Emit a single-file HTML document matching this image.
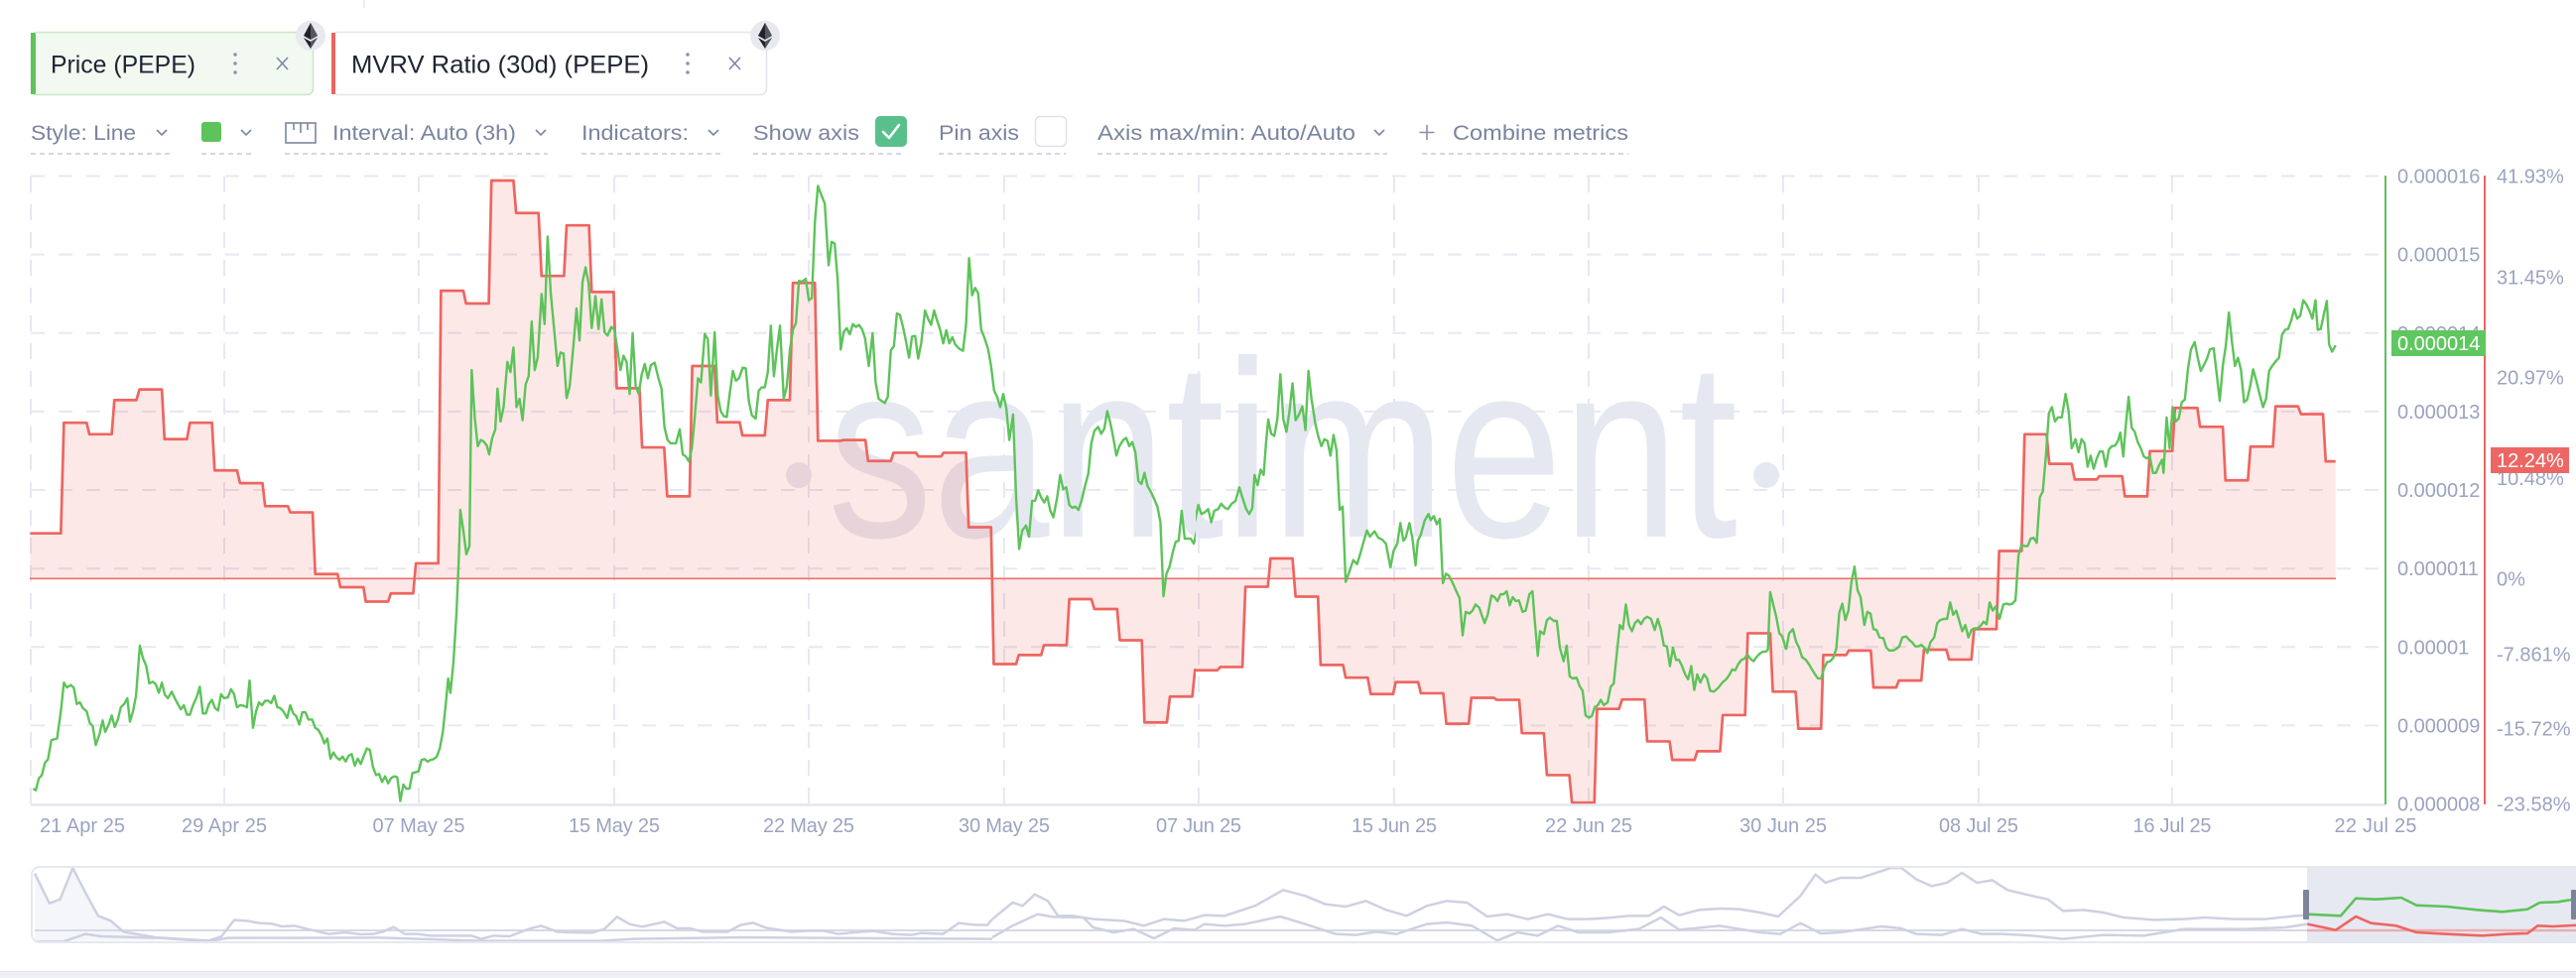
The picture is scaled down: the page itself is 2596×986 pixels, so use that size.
<!DOCTYPE html>
<html><head><meta charset="utf-8"><style>
html,body{margin:0;padding:0;background:#fff;}
svg{display:block;}
text{font-family:"Liberation Sans",sans-serif;}
</style></head><body>
<svg width="2596" height="986" viewBox="0 0 2596 986" xmlns="http://www.w3.org/2000/svg">
<defs>
<clipPath id="chip1"><rect x="31" y="32" width="285" height="64" rx="6"/></clipPath>
<clipPath id="chip2"><rect x="334" y="32" width="439" height="64" rx="6"/></clipPath>
<clipPath id="c7"><rect x="0" y="150" width="615" height="700"/></clipPath>
<clipPath id="c8"><rect x="615" y="150" width="590" height="700"/></clipPath>
<clipPath id="c9"><rect x="1205" y="150" width="596" height="700"/></clipPath>
<clipPath id="c10"><rect x="1800" y="150" width="600" height="700"/></clipPath>
<clipPath id="nav"><rect x="31" y="873" width="2600" height="78" rx="8"/></clipPath>
</defs>

<!-- top remnant -->
<line x1="367" y1="0" x2="367" y2="8" stroke="#e3e5ec" stroke-width="1.5"/>

<!-- Chips -->
<g clip-path="url(#chip1)">
<rect x="31" y="32" width="285" height="64" fill="#f2f9f1"/>
<rect x="31" y="32" width="5" height="64" fill="#5dc35a"/>
</g>
<rect x="31.5" y="32.5" width="284" height="63" rx="6" fill="none" stroke="#c6e9c4" stroke-width="1.5"/>
<rect x="31" y="33" width="4" height="62" fill="#5dc35a"/>
<text x="51" y="73.5" font-size="25" fill="#1f2433" textLength="146" lengthAdjust="spacingAndGlyphs">Price (PEPE)</text>
<circle cx="237" cy="55" r="1.8" fill="#8c94ad"/><circle cx="237" cy="64" r="1.8" fill="#8c94ad"/><circle cx="237" cy="73" r="1.8" fill="#8c94ad"/>
<path d="M279,58 L290,70 M290,58 L279,70" stroke="#7c86a2" stroke-width="1.6" fill="none"/>

<g clip-path="url(#chip2)">
<rect x="334" y="32" width="439" height="64" fill="#ffffff"/>
</g>
<rect x="334.5" y="32.5" width="438" height="63" rx="6" fill="none" stroke="#e3e5ee" stroke-width="1.5"/>
<rect x="334" y="33" width="4" height="62" fill="#ec6560"/>
<text x="354" y="73.5" font-size="25" fill="#1f2433" textLength="300" lengthAdjust="spacingAndGlyphs">MVRV Ratio (30d) (PEPE)</text>
<circle cx="693" cy="55" r="1.8" fill="#8c94ad"/><circle cx="693" cy="64" r="1.8" fill="#8c94ad"/><circle cx="693" cy="73" r="1.8" fill="#8c94ad"/>
<path d="M735,58 L746,70 M746,58 L735,70" stroke="#7c86a2" stroke-width="1.6" fill="none"/>

<!-- ETH icons -->
<g>
<circle cx="313" cy="36" r="15" fill="#e8e9ee"/>
<polygon points="313,23 320,36 313,40 306,36" fill="#222228"/>
<polygon points="313,23 313,40 320,36" fill="#55575f"/>
<polygon points="306,38 313,42 320,38 313,49" fill="#222228"/>
<polygon points="313,42 320,38 313,49" fill="#55575f"/>
</g>
<g>
<circle cx="771" cy="36" r="15" fill="#e8e9ee"/>
<polygon points="771,23 778,36 771,40 764,36" fill="#222228"/>
<polygon points="771,23 771,40 778,36" fill="#55575f"/>
<polygon points="764,38 771,42 778,38 771,49" fill="#222228"/>
<polygon points="771,42 778,38 771,49" fill="#55575f"/>
</g>

<!-- Toolbar -->
<g font-size="21" fill="#7a849e">
<text x="31" y="141" textLength="106" lengthAdjust="spacingAndGlyphs">Style: Line</text>
<text x="335" y="141" textLength="185" lengthAdjust="spacingAndGlyphs">Interval: Auto (3h)</text>
<text x="586" y="141" textLength="108" lengthAdjust="spacingAndGlyphs">Indicators:</text>
<text x="759" y="141" textLength="107" lengthAdjust="spacingAndGlyphs">Show axis</text>
<text x="946" y="141" textLength="81" lengthAdjust="spacingAndGlyphs">Pin axis</text>
<text x="1106" y="141" textLength="260" lengthAdjust="spacingAndGlyphs">Axis max/min: Auto/Auto</text>
<text x="1464" y="141" textLength="177" lengthAdjust="spacingAndGlyphs">Combine metrics</text>
</g>
<path d="M1438,126 V141 M1430.5,133.5 H1445.5" stroke="#8890aa" stroke-width="1.6"/>
<g stroke="#7c86a2" stroke-width="1.6" fill="none">
<path d="M158,131 L163,136 L168,131"/>
<path d="M243,131 L248,136 L253,131"/>
<path d="M540,131 L545,136 L550,131"/>
<path d="M714,131 L719,136 L724,131"/>
<path d="M1385,131 L1390,136 L1395,131"/>
<rect x="288" y="124" width="30" height="20"/>
<path d="M296,124 V131 M303,124 V134 M310,124 V131"/>
</g>
<rect x="203" y="123" width="20" height="20" rx="3" fill="#5dc35a"/>
<rect x="882" y="117" width="32" height="31" rx="5" fill="#59c08c"/>
<path d="M890,133 L896,139 L906,126" stroke="#fff" stroke-width="2.6" fill="none" stroke-linecap="round" stroke-linejoin="round"/>
<rect x="1043.5" y="117.5" width="31" height="30" rx="5" fill="#fff" stroke="#e0e2eb" stroke-width="1.5"/>
<g stroke="#d4d7e4" stroke-width="2" stroke-dasharray="5 4">
<line x1="31" y1="155" x2="171" y2="155"/>
<line x1="203" y1="155" x2="255" y2="155"/>
<line x1="287" y1="155" x2="552" y2="155"/>
<line x1="586" y1="155" x2="727" y2="155"/>
<line x1="759" y1="155" x2="912" y2="155"/>
<line x1="946" y1="155" x2="1074" y2="155"/>
<line x1="1106" y1="155" x2="1398" y2="155"/>
<line x1="1433" y1="155" x2="1641" y2="155"/>
</g>

<!-- Grid -->
<g stroke="#e6e8f2" stroke-width="2" stroke-dasharray="14 14">
<line x1="31" y1="177.5" x2="2398" y2="177.5"/>
<line x1="31" y1="256.6" x2="2398" y2="256.6"/>
<line x1="31" y1="335.8" x2="2398" y2="335.8"/>
<line x1="31" y1="414.9" x2="2398" y2="414.9"/>
<line x1="31" y1="494" x2="2398" y2="494"/>
<line x1="31" y1="573.2" x2="2398" y2="573.2"/>
<line x1="31" y1="652.3" x2="2398" y2="652.3"/>
<line x1="31" y1="731.4" x2="2398" y2="731.4"/>
</g>
<g stroke="#e6e8f2" stroke-width="2" stroke-dasharray="16 12">
<line x1="31" y1="178" x2="31" y2="810"/>
<line x1="226" y1="178" x2="226" y2="810"/>
<line x1="422" y1="178" x2="422" y2="810"/>
<line x1="619" y1="178" x2="619" y2="810"/>
<line x1="815" y1="178" x2="815" y2="810"/>
<line x1="1012" y1="178" x2="1012" y2="810"/>
<line x1="1208" y1="178" x2="1208" y2="810"/>
<line x1="1405" y1="178" x2="1405" y2="810"/>
<line x1="1601" y1="178" x2="1601" y2="810"/>
<line x1="1797" y1="178" x2="1797" y2="810"/>
<line x1="1994" y1="178" x2="1994" y2="810"/>
<line x1="2189" y1="178" x2="2189" y2="810"/>
</g>

<!-- Watermark -->
<g fill="#e5e8f0">
<circle cx="805" cy="479" r="13"/>
<circle cx="1780" cy="479" r="13"/>
<text x="834" y="541" font-size="254" textLength="917" lengthAdjust="spacingAndGlyphs">santiment</text>
</g>

<!-- Red fill -->
<g fill="rgba(236,100,96,0.15)" stroke="none">
<g clip-path="url(#c7)"><g transform="translate(20,170) scale(0.38265,0.41454)">
<polygon points="27,887 108,887 116,618 176,618 183,646 242,646 249,563 307,563 315,537 374,537 381,658 440,658 448,618 506,618 513,734 572,734 580,765 639,765 646,821 706,821 712,836 771,836 778,986 837,986 844,1018 905,1018 911,1053 970,1053 977,1033 1036,1033 1043,960 1102,960 1109,297 1168,297 1175,328 1235,328 1242,29 1300,29 1307,108 1366,108 1374,261 1433,261 1440,138 1499,138 1506,300 1568,300 1568,997 27,997"/>
</g></g>
<g clip-path="url(#c8)"><g transform="translate(610,170) scale(0.38265,0.41454)">
<polygon points="0,300 22,300 30,534 90,534 97,678 155,678 163,797 222,797 229,480 288,480 295,617 354,617 361,649 420,649 428,563 486,563 494,278 552,278 560,662 620,662 627,660 685,660 692,711 752,711 759,691 818,691 825,700 884,700 891,691 950,691 957,872 1016,872 1023,1205 1082,1205 1089,1183 1148,1183 1155,1159 1215,1159 1222,1047 1280,1047 1288,1071 1348,1071 1355,1147 1413,1147 1420,1347 1479,1347 1487,1284 1546,1284 1553,1219 1568,1219 1568,997 0,997"/>
</g></g>
<g clip-path="url(#c9)"><g transform="translate(1200,170) scale(0.38265,0.41454)">
<polygon points="0,1285 8,1220 70,1220 78,1212 136,1212 144,1017 203,1017 210,948 268,948 276,1041 335,1041 342,1207 401,1207 408,1238 466,1238 474,1278 533,1278 540,1249 599,1249 606,1276 665,1276 673,1350 732,1350 739,1287 798,1287 806,1292 865,1292 872,1373 930,1373 938,1475 997,1475 1004,1542 1063,1542 1070,1314 1128,1314 1136,1291 1195,1291 1202,1393 1261,1393 1268,1438 1327,1438 1334,1417 1394,1417 1401,1329 1460,1329 1467,1130 1526,1130 1533,1272 1568,1272 1568,997 0,997"/>
</g></g>
<g clip-path="url(#c10)"><g transform="translate(1800,170) scale(0.38265,0.41454)">
<polygon points="0,1272 25,1272 32,1362 92,1362 98,1183 158,1183 165,1172 223,1172 230,1262 290,1262 297,1245 356,1245 363,1170 422,1170 429,1194 488,1194 495,1120 554,1120 561,930 620,930 628,646 686,646 693,718 752,718 760,756 818,756 825,748 885,748 892,797 951,797 958,687 1017,687 1024,582 1083,582 1090,628 1150,628 1157,758 1216,758 1223,676 1282,676 1289,578 1348,578 1356,597 1414,597 1421,712 1447,712 1447,997 0,997"/>
</g></g>
</g>

<!-- zero line -->
<line x1="30" y1="583.3" x2="2354" y2="583.3" stroke="#ef6f6a" stroke-width="1.6"/>

<!-- Red line -->
<g fill="none" stroke="#ee6560" stroke-width="2.7" stroke-linejoin="round">
<g clip-path="url(#c7)"><g transform="translate(20,170) scale(0.38265,0.41454)">
<polyline vector-effect="non-scaling-stroke" points="27,887 108,887 116,618 176,618 183,646 242,646 249,563 307,563 315,537 374,537 381,658 440,658 448,618 506,618 513,734 572,734 580,765 639,765 646,821 706,821 712,836 771,836 778,986 837,986 844,1018 905,1018 911,1053 970,1053 977,1033 1036,1033 1043,960 1102,960 1109,297 1168,297 1175,328 1235,328 1242,29 1300,29 1307,108 1366,108 1374,261 1433,261 1440,138 1499,138 1506,300 1568,300"/>
</g></g>
<g clip-path="url(#c8)"><g transform="translate(610,170) scale(0.38265,0.41454)">
<polyline vector-effect="non-scaling-stroke" points="0,300 22,300 30,534 90,534 97,678 155,678 163,797 222,797 229,480 288,480 295,617 354,617 361,649 420,649 428,563 486,563 494,278 552,278 560,662 620,662 627,660 685,660 692,711 752,711 759,691 818,691 825,700 884,700 891,691 950,691 957,872 1016,872 1023,1205 1082,1205 1089,1183 1148,1183 1155,1159 1215,1159 1222,1047 1280,1047 1288,1071 1348,1071 1355,1147 1413,1147 1420,1347 1479,1347 1487,1284 1546,1284 1553,1219 1568,1219"/>
</g></g>
<g clip-path="url(#c9)"><g transform="translate(1200,170) scale(0.38265,0.41454)">
<polyline vector-effect="non-scaling-stroke" points="0,1285 8,1220 70,1220 78,1212 136,1212 144,1017 203,1017 210,948 268,948 276,1041 335,1041 342,1207 401,1207 408,1238 466,1238 474,1278 533,1278 540,1249 599,1249 606,1276 665,1276 673,1350 732,1350 739,1287 798,1287 806,1292 865,1292 872,1373 930,1373 938,1475 997,1475 1004,1542 1063,1542 1070,1314 1128,1314 1136,1291 1195,1291 1202,1393 1261,1393 1268,1438 1327,1438 1334,1417 1394,1417 1401,1329 1460,1329 1467,1130 1526,1130 1533,1272 1568,1272"/>
</g></g>
<g clip-path="url(#c10)"><g transform="translate(1800,170) scale(0.38265,0.41454)">
<polyline vector-effect="non-scaling-stroke" points="0,1272 25,1272 32,1362 92,1362 98,1183 158,1183 165,1172 223,1172 230,1262 290,1262 297,1245 356,1245 363,1170 422,1170 429,1194 488,1194 495,1120 554,1120 561,930 620,930 628,646 686,646 693,718 752,718 760,756 818,756 825,748 885,748 892,797 951,797 958,687 1017,687 1024,582 1083,582 1090,628 1150,628 1157,758 1216,758 1223,676 1282,676 1289,578 1348,578 1356,597 1414,597 1421,712 1447,712"/>
</g></g>
</g>

<!-- Green line -->
<g fill="none" stroke="#5dc35a" stroke-width="2.4" stroke-linejoin="round">
<g clip-path="url(#c7)"><g transform="translate(20,170) scale(0.38265,0.41454)">
<polyline vector-effect="non-scaling-stroke" points="35,1508 42,1512 50,1483 58,1475 66,1445 74,1437 83,1390 98,1386 108,1320 116,1250 124,1262 134,1256 142,1262 150,1302 158,1298 166,1312 176,1320 184,1348 192,1356 200,1402 210,1375 218,1342 225,1370 235,1350 242,1330 250,1358 258,1340 266,1310 275,1302 283,1288 290,1345 298,1320 306,1282 316,1160 324,1190 333,1210 341,1252 350,1248 358,1254 366,1275 374,1250 382,1280 390,1288 400,1272 408,1288 416,1302 424,1315 432,1305 440,1328 448,1328 456,1305 466,1285 474,1260 482,1325 490,1325 498,1302 506,1292 514,1312 522,1318 530,1278 538,1288 548,1286 556,1266 564,1278 572,1310 580,1305 588,1306 598,1310 605,1245 614,1360 622,1320 630,1298 638,1305 646,1294 654,1294 662,1300 670,1282 678,1310 686,1312 694,1320 704,1336 712,1305 720,1325 728,1332 736,1352 744,1322 752,1322 760,1340 770,1340 778,1360 786,1365 794,1378 802,1398 810,1386 818,1435 826,1420 834,1432 842,1438 850,1430 858,1442 866,1428 874,1424 882,1452 890,1435 898,1448 906,1428 914,1410 922,1414 930,1455 938,1475 946,1472 954,1492 962,1478 970,1495 978,1482 986,1478 994,1480 1002,1538 1010,1498 1018,1508 1026,1508 1034,1470 1042,1468 1050,1466 1058,1438 1066,1436 1074,1442 1082,1438 1090,1436 1098,1430 1106,1410 1114,1370 1122,1300 1128,1240 1134,1275 1142,1200 1150,1080 1156,950 1160,830 1168,880 1176,938 1184,918 1190,490 1198,605 1206,675 1214,660 1222,664 1230,674 1236,695 1244,655 1252,635 1258,535 1266,615 1274,580 1284,470 1292,495 1300,435 1308,580 1316,560 1324,612 1332,525 1340,505 1348,372 1356,490 1364,458 1374,305 1382,378 1390,165 1398,300 1408,400 1416,480 1424,447 1432,450 1440,558 1448,530 1458,430 1466,340 1474,418 1482,275 1490,240 1498,280 1506,388 1516,310 1524,390 1532,318 1540,398 1548,406 1556,388 1564,390 1568,400"/>
</g></g>
<g clip-path="url(#c8)"><g transform="translate(610,170) scale(0.38265,0.41454)">
<polyline vector-effect="non-scaling-stroke" points="0,395 8,405 16,385 24,392 32,440 40,490 48,455 56,470 64,548 72,400 80,530 88,548 96,500 104,475 112,510 120,478 130,472 140,510 148,535 156,630 164,660 172,668 186,668 196,634 204,695 212,700 220,712 228,680 236,600 244,510 252,520 262,402 270,415 278,552 288,398 296,550 304,590 312,602 320,604 328,545 336,492 344,516 352,510 362,484 370,486 378,565 386,600 396,608 404,540 412,532 420,532 428,495 436,382 444,505 452,440 460,382 470,560 478,530 486,442 494,392 502,376 510,273 518,275 528,268 536,320 544,315 552,130 560,42 568,62 578,85 588,235 596,178 604,182 612,270 620,440 628,397 636,388 644,403 652,378 660,385 668,380 676,390 684,412 694,480 704,400 712,520 720,560 736,570 744,555 752,442 760,432 768,352 776,356 784,385 792,420 800,460 808,408 816,407 824,462 832,425 842,345 850,365 858,380 866,345 874,370 882,392 890,425 898,393 906,425 914,410 922,428 932,438 942,443 950,380 958,218 966,308 974,290 982,303 990,392 998,410 1008,438 1016,480 1024,540 1032,555 1040,580 1048,548 1056,582 1064,660 1074,598 1082,800 1090,925 1098,880 1108,868 1116,895 1124,808 1132,808 1140,782 1148,800 1156,812 1164,797 1172,832 1180,848 1190,800 1198,745 1206,780 1214,775 1222,818 1230,825 1238,822 1246,830 1254,808 1264,770 1272,742 1280,668 1288,638 1298,628 1306,645 1314,633 1322,590 1330,618 1338,655 1346,698 1354,675 1364,660 1372,655 1380,675 1388,665 1396,690 1404,760 1412,767 1420,740 1428,772 1436,785 1444,800 1454,822 1462,860 1470,1040 1478,985 1486,968 1494,935 1502,908 1510,905 1518,832 1526,900 1534,900 1542,900 1550,912 1558,880 1566,818"/>
</g></g>
<g clip-path="url(#c9)"><g transform="translate(1200,170) scale(0.38265,0.41454)">
<polyline vector-effect="non-scaling-stroke" points="0,912 8,870 20,818 28,840 38,835 46,828 54,860 62,832 72,828 80,815 90,825 98,828 108,815 118,808 128,775 136,800 146,828 154,840 162,826 168,745 176,770 184,732 192,745 198,670 204,610 212,645 220,650 228,610 236,500 244,610 252,640 260,590 268,522 276,612 284,600 294,578 302,636 310,492 318,560 328,620 336,652 344,675 352,658 360,662 368,698 376,648 384,685 392,830 400,822 408,1005 416,985 428,952 438,962 446,938 456,905 464,880 472,895 484,882 494,898 504,902 514,912 526,970 534,930 544,912 552,862 560,905 566,898 576,862 584,900 592,965 598,905 606,890 616,856 626,840 632,855 640,845 648,865 656,852 664,1008 672,985 680,990 690,1008 698,1025 708,1045 716,1135 724,1078 734,1082 742,1075 750,1060 760,1068 766,1085 774,1105 782,1085 792,1038 800,1042 808,1052 816,1035 824,1035 832,1028 840,1062 848,1042 856,1052 864,1050 874,1078 882,1075 892,1035 900,1028 906,1100 914,1185 920,1125 930,1132 938,1098 946,1092 956,1100 964,1100 972,1165 982,1198 990,1160 998,1235 1006,1240 1016,1238 1024,1258 1032,1270 1040,1330 1048,1335 1056,1332 1064,1310 1072,1305 1080,1292 1088,1305 1098,1298 1106,1260 1114,1252 1122,1180 1130,1110 1138,1120 1146,1060 1154,1110 1162,1125 1170,1105 1178,1098 1186,1108 1194,1095 1202,1090 1212,1095 1222,1122 1230,1095 1238,1120 1246,1160 1254,1162 1262,1210 1270,1165 1278,1195 1286,1195 1294,1210 1302,1230 1310,1242 1318,1210 1326,1268 1334,1230 1342,1250 1352,1230 1360,1240 1368,1270 1378,1272 1390,1262 1400,1250 1410,1242 1418,1232 1426,1218 1434,1220 1442,1205 1450,1195 1458,1192 1466,1182 1474,1192 1482,1198 1490,1188 1498,1180 1506,1175 1514,1175 1520,1170 1526,1030 1534,1060 1542,1090 1550,1130 1558,1138 1568,1170"/>
</g></g>
<g clip-path="url(#c10)"><g transform="translate(1800,170) scale(0.38265,0.41454)">
<polyline vector-effect="non-scaling-stroke" points="0,1170 8,1130 18,1120 26,1150 34,1165 42,1188 52,1195 60,1205 68,1218 76,1230 84,1240 92,1240 100,1215 108,1200 116,1198 124,1190 132,1168 140,1080 148,1058 156,1098 164,1075 172,1005 180,968 188,1025 196,1042 206,1110 214,1078 222,1082 230,1120 238,1122 246,1140 256,1142 264,1165 272,1172 282,1172 290,1168 298,1162 306,1140 316,1138 324,1146 332,1152 340,1162 348,1162 356,1158 364,1165 372,1178 380,1152 390,1140 398,1105 406,1098 416,1095 424,1095 432,1055 440,1085 448,1075 456,1100 464,1125 472,1110 480,1140 488,1122 496,1118 504,1118 512,1112 520,1102 528,1108 536,1055 544,1075 552,1065 562,1095 572,1060 580,1058 588,1060 596,1058 604,1050 612,940 620,915 628,918 636,918 644,900 652,898 660,910 668,800 676,785 684,700 692,595 700,580 708,615 716,605 726,605 736,548 744,590 752,680 762,658 770,690 778,658 786,668 794,725 802,698 810,730 818,705 826,688 834,688 842,725 850,683 858,675 866,674 874,662 880,642 888,700 894,630 902,555 910,630 918,640 926,665 934,680 942,700 950,705 958,700 966,740 974,740 982,722 990,708 994,740 1002,605 1010,680 1018,580 1026,615 1034,608 1042,568 1050,562 1058,490 1066,440 1076,422 1084,460 1092,492 1100,478 1108,463 1116,440 1126,437 1134,500 1142,565 1150,480 1158,430 1166,350 1174,420 1182,480 1190,460 1198,490 1206,568 1214,562 1222,530 1230,488 1238,515 1246,545 1256,580 1264,560 1272,492 1280,480 1290,468 1298,460 1306,404 1314,392 1322,390 1330,370 1338,342 1346,365 1354,358 1362,320 1370,330 1378,345 1386,365 1394,320 1400,392 1408,390 1416,355 1424,322 1430,428 1438,445 1447,430"/>
</g></g>
</g>

<!-- axes -->
<line x1="31" y1="811.5" x2="2404" y2="811.5" stroke="#e4e6ef" stroke-width="2.5"/>
<line x1="2404" y1="177" x2="2404" y2="811" stroke="#5dc35a" stroke-width="2"/>
<line x1="2504" y1="177" x2="2504" y2="811" stroke="#ee6560" stroke-width="2"/>

<!-- price ticks -->
<g font-size="20" fill="#9ba3c0">
<text x="2416" y="184.5">0.000016</text>
<text x="2416" y="263.6">0.000015</text>
<text x="2416" y="342.8">0.000014</text>
<text x="2416" y="421.9">0.000013</text>
<text x="2416" y="501">0.000012</text>
<text x="2416" y="580.2">0.000011</text>
<text x="2416" y="659.3">0.00001</text>
<text x="2416" y="738.4">0.000009</text>
<text x="2416" y="817.5">0.000008</text>
</g>
<g font-size="20" fill="#9ba3c0">
<text x="2516" y="184.5">41.93%</text>
<text x="2516" y="286.5">31.45%</text>
<text x="2516" y="387.5">20.97%</text>
<text x="2516" y="489">10.48%</text>
<text x="2516" y="590.3">0%</text>
<text x="2516" y="666.5">-7.861%</text>
<text x="2516" y="741.5">-15.72%</text>
<text x="2516" y="817.5">-23.58%</text>
</g>
<rect x="2410" y="333" width="95" height="26" fill="#5fc75f"/>
<text x="2416" y="353" font-size="20" fill="#ffffff">0.000014</text>
<rect x="2510" y="451" width="79" height="26" fill="#ec6764"/>
<text x="2516" y="471" font-size="20" fill="#ffffff">12.24%</text>

<!-- date labels -->
<g font-size="20" fill="#9ba3c0">
<text x="40" y="839" textLength="86">21 Apr 25</text>
<text x="226" y="839" text-anchor="middle" textLength="86">29 Apr 25</text>
<text x="422" y="839" text-anchor="middle" textLength="93">07 May 25</text>
<text x="619" y="839" text-anchor="middle" textLength="92">15 May 25</text>
<text x="815" y="839" text-anchor="middle" textLength="92">22 May 25</text>
<text x="1012" y="839" text-anchor="middle" textLength="92">30 May 25</text>
<text x="1208" y="839" text-anchor="middle" textLength="86">07 Jun 25</text>
<text x="1405" y="839" text-anchor="middle" textLength="86">15 Jun 25</text>
<text x="1601" y="839" text-anchor="middle" textLength="88">22 Jun 25</text>
<text x="1797" y="839" text-anchor="middle" textLength="88">30 Jun 25</text>
<text x="1994" y="839" text-anchor="middle" textLength="80">08 Jul 25</text>
<text x="2189" y="839" text-anchor="middle" textLength="79">16 Jul 25</text>
<text x="2394" y="839" text-anchor="middle" textLength="83">22 Jul 25</text>
</g>

<!-- Navigator -->
<g clip-path="url(#nav)">
<rect x="2325" y="873" width="280" height="78" fill="#e7e9f2"/>
<g transform="translate(0,760) scale(0.63776,0.33333)">
<polygon fill="#f5f6fa" points="55,362 78,452 95,440 115,345 135,420 155,490 175,505 195,538 215,545 245,555 245,565 55,565"/>
</g>
<line x1="35" y1="938" x2="2325" y2="938" stroke="#d6d9e6" stroke-width="2"/>
<line x1="2325" y1="938" x2="2596" y2="938" stroke="rgba(236,100,96,0.45)" stroke-width="2.5"/>
<g fill="none" stroke="#cdd1e1" stroke-width="2.5" stroke-linejoin="round">
<g transform="translate(0,760) scale(0.63776,0.33333)">
<polyline vector-effect="non-scaling-stroke" points="55,362 78,452 95,440 115,345 135,420 155,490 175,505 195,538 215,545 245,555 285,560 330,565 350,552 370,503 390,505 410,512 430,514 445,522 465,520 490,532 520,545 545,540 570,546 590,545 605,538 622,524 640,545 660,545 680,550 720,550 745,550 760,560 780,550 805,552 835,530 855,520 880,538 900,540 935,541 955,530 975,493 995,515 1015,523 1050,508 1070,528 1090,528 1110,538 1150,538 1170,518 1190,511 1210,526 1250,538 1280,535 1300,535 1325,545 1350,540 1380,536 1410,545 1440,548 1455,542 1490,545 1515,512 1540,517 1560,518 1568,500"/>
<polyline vector-effect="non-scaling-stroke" points="55,568 100,568 135,545 160,552 250,557 330,567 360,557 600,556 700,562 760,566 950,566 1000,560 1180,555 1300,557 1568,560"/>
</g>
<g transform="translate(1000,760) scale(1.0179,0.33333)">
<polyline vector-effect="non-scaling-stroke" points="0,500 20,450 30,460 42,425 55,445 65,490 80,490 100,500 130,505 150,520 170,500 190,505 210,488 230,490 260,460 288,412 310,430 330,455 350,462 370,445 390,472 410,490 430,460 450,445 470,450 490,492 510,485 530,500 550,485 570,500 590,500 610,496 630,490 650,490 665,462 680,488 700,472 720,468 740,470 760,480 778,492 800,430 815,365 825,390 840,375 860,375 880,355 890,345 900,345 915,380 930,400 945,390 960,360 975,390 990,382 1005,412 1030,430 1045,440 1060,475 1080,472 1100,480 1120,495 1150,502 1180,500 1200,495 1230,500 1260,500 1290,490 1302,488"/>
<polyline vector-effect="non-scaling-stroke" points="0,555 20,520 45,485 60,493 90,495 100,525 120,540 140,530 160,558 180,528 200,533 210,515 230,520 250,515 285,492 310,515 340,545 360,548 380,538 400,545 430,515 450,510 475,520 500,565 520,540 540,550 560,520 580,540 610,540 640,530 662,495 680,532 720,520 760,540 780,545 800,512 820,543 840,540 880,522 900,528 915,545 940,548 960,530 980,545 1000,545 1030,550 1060,560 1100,548 1140,550 1180,530 1210,530 1240,530 1280,525 1302,515"/>
</g>
</g>
<g transform="translate(1000,760) scale(1.0179,0.33333)" fill="none" stroke-width="2.6" stroke-linejoin="round">
<polyline vector-effect="non-scaling-stroke" stroke="#5dc35a" points="1302,485 1335,490 1350,437 1370,440 1395,435 1410,458 1440,462 1470,472 1495,478 1520,470 1532,450 1550,448 1570,438"/>
<polyline vector-effect="non-scaling-stroke" stroke="#ee6560" points="1302,515 1330,533 1350,492 1365,512 1390,520 1410,540 1440,545 1475,550 1500,545 1520,543 1530,520 1545,522 1570,518"/>
</g>
</g>
<rect x="32" y="874" width="2600" height="76" rx="8" fill="none" stroke="#e6e8f0" stroke-width="2"/>
<rect x="2321" y="897" width="6" height="30" rx="1" fill="#7d8399"/>
<rect x="2591" y="897" width="5" height="30" rx="1" fill="#7d8399"/>

<!-- bottom border -->
<rect x="0" y="979" width="2596" height="7" fill="#eef0f6"/>
<line x1="0" y1="979.5" x2="2596" y2="979.5" stroke="#e4e6ee" stroke-width="1"/>
</svg>
</body></html>
